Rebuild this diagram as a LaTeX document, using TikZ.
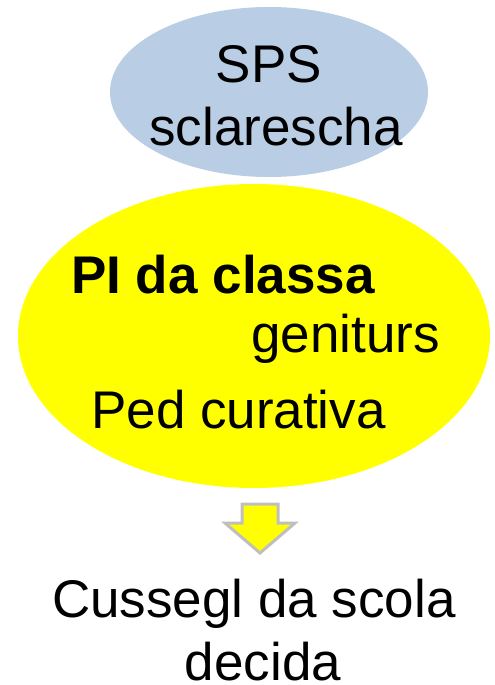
\documentclass[tikz,border=0pt]{standalone}
\usepackage{fontspec}
\setmainfont{Liberation Sans}
\usetikzlibrary{shapes.geometric}
\definecolor{spsblue}{HTML}{B9CDE5}
\definecolor{planyellow}{HTML}{FFFF00}
\definecolor{arrowgrey}{HTML}{BFBFBF}
\begin{document}
\begin{tikzpicture}[x=1pt,y=-1pt,
    words/.style={inner sep=0pt, font=\fontsize{53}{63}\selectfont},
    blob/.style={ellipse, inner sep=0pt}]
    \useasboundingbox (0,0) rectangle (495,685);
    \node [blob, fill=spsblue, minimum width=318pt, minimum height=170pt] (sps) at (269,92) {};
    \node [blob, fill=planyellow, minimum width=472pt, minimum height=304pt] (plan) at (254,336) {};
    \node [words, anchor=base] (spsA) at (269,82) {SPS};
    \node [words, anchor=base] (spsB) at (276,145) {sclarescha};
    \node [words, anchor=base west, font=\fontsize{53}{63}\selectfont\bfseries] (pi) at (71,293) {PI da classa};
    \node [words, anchor=base west] (gen) at (251,352) {geniturs};
    \node [words, anchor=base west] (ped) at (91,428) {Ped curativa};
    \coordinate (tip) at (260,553);
    \draw [arrowgrey, line width=3pt, fill=planyellow, line join=miter]
      (tip) -- ++(35,-30) -- ++(-17,0) -- ++(0,-19) -- ++(-36,0)
      -- ++(0,19) -- ++(-17,0) -- cycle;
    \node [words, anchor=base] (csA) at (254,617) {Cussegl da scola};
    \node [words, anchor=base] (csB) at (263,680) {decida};
\end{tikzpicture}
\end{document}
